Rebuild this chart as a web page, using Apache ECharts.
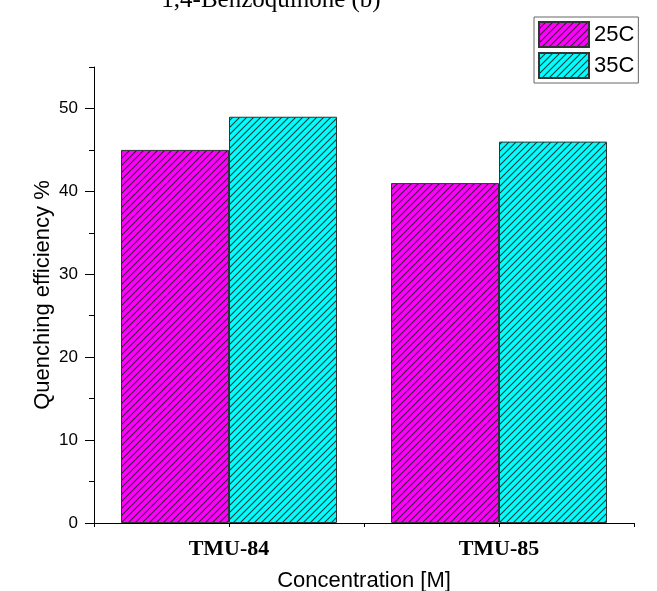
<!DOCTYPE html>
<html>
<head>
<meta charset="utf-8">
<script src="https://cdn.jsdelivr.net/npm/echarts@6/dist/echarts.min.js"></script>
<style>
html,body{margin:0;padding:0;background:#fff;}
#c{width:657px;height:591px;}
</style>
</head>
<body>
<div id="c"></div>
<script>
var categories = ['TMU-84', 'TMU-85'];
var series25C = [45, 41];
var series35C = [49, 46];
var seriesNames = ['25C', '35C'];
var yMajorTicks = [0, 10, 20, 30, 40, 50];
var yMinorTicks = [5, 15, 25, 35, 45, 55];
var titleText = '1,4-Benzoquinone (b)';

function makePattern(fill) {
  var s = 7;
  var cv = document.createElement('canvas');
  cv.width = s; cv.height = s;
  var ctx = cv.getContext('2d');
  ctx.fillStyle = fill;
  ctx.fillRect(0, 0, s, s);
  ctx.strokeStyle = 'rgba(20,20,20,0.85)';
  ctx.lineWidth = 1.1;
  ctx.beginPath();
  ctx.moveTo(-1, s + 1); ctx.lineTo(s + 1, -1);
  ctx.moveTo(-1, 1); ctx.lineTo(1, -1);
  ctx.moveTo(s - 1, s + 1); ctx.lineTo(s + 1, s - 1);
  ctx.stroke();
  return {image: cv, repeat: 'repeat'};
}

var chart = echarts.init(document.getElementById('c'), null, {renderer: 'canvas'});
var sans = 'Liberation Sans';
var option = {
  backgroundColor: '#fff',
  animation: false,
  graphic: [{
    type: 'text', x: 271, y: 0,
    style: {text: titleText, font: '25px "Liberation Serif"', fill: '#000', textAlign: 'center', textVerticalAlign: 'middle'}
  }],
  legend: {
    orient: 'vertical', left: 534, top: 17,
    itemWidth: 50, itemHeight: 25, itemGap: 4,
    padding: [4, 4, 4, 4],
    borderColor: '#666', borderWidth: 1,
    icon: 'rect',
    textStyle: {fontFamily: sans, fontSize: 22, color: '#000', padding: [0, 0, 0, 0]},
    data: seriesNames
  },
  grid: {left: 94, right: 23, top: 67, bottom: 68, containLabel: false, outerBoundsMode: 'none'},
  xAxis: [{
    type: 'category', data: categories,
    axisLine: {lineStyle: {color: '#000', width: 1}},
    axisTick: {show: false},
    axisLabel: {fontFamily: 'Liberation Serif', fontWeight: 'bold', fontSize: 22, color: '#000', margin: 15},
    name: 'Concentration [M]', nameLocation: 'middle', nameGap: 47, nameMoveOverlap: false,
    nameTextStyle: {fontFamily: sans, fontSize: 22, color: '#000'}
  }, {
    type: 'value', min: 0, max: 2, interval: 0.5, position: 'bottom',
    axisLine: {show: false}, splitLine: {show: false},
    axisTick: {show: true, length: 4, lineStyle: {color: '#000'}},
    axisLabel: {show: false}
  }],
  yAxis: [{
    type: 'value', min: 0, max: 55,
    axisLine: {show: true, lineStyle: {color: '#000', width: 1}},
    splitLine: {show: false},
    axisTick: {show: true, length: 9, customValues: yMajorTicks, lineStyle: {color: '#000'}},
    axisLabel: {customValues: yMajorTicks, fontFamily: sans, fontSize: 17, color: '#000', margin: 16},
    name: 'Quenching efficiency %', nameLocation: 'middle', nameGap: 40, nameMoveOverlap: false,
    nameTextStyle: {fontFamily: sans, fontSize: 22, color: '#000'}
  }, {
    type: 'value', min: 0, max: 55, position: 'left',
    axisLine: {show: false}, splitLine: {show: false},
    axisTick: {show: true, length: 5, customValues: yMinorTicks, lineStyle: {color: '#000'}},
    axisLabel: {show: false}
  }],
  series: [{
    name: seriesNames[0], type: 'bar', data: series25C,
    xAxisIndex: 0, yAxisIndex: 0,
    barGap: '0%', barCategoryGap: '20%',
    itemStyle: {color: makePattern('#ff00ff'), borderColor: '#333', borderWidth: 1}
  }, {
    name: seriesNames[1], type: 'bar', data: series35C,
    xAxisIndex: 0, yAxisIndex: 0,
    barGap: '0%', barCategoryGap: '20%',
    itemStyle: {color: makePattern('#00ffff'), borderColor: '#333', borderWidth: 1}
  }]
};
chart.setOption(option);
</script>
</body>
</html>
